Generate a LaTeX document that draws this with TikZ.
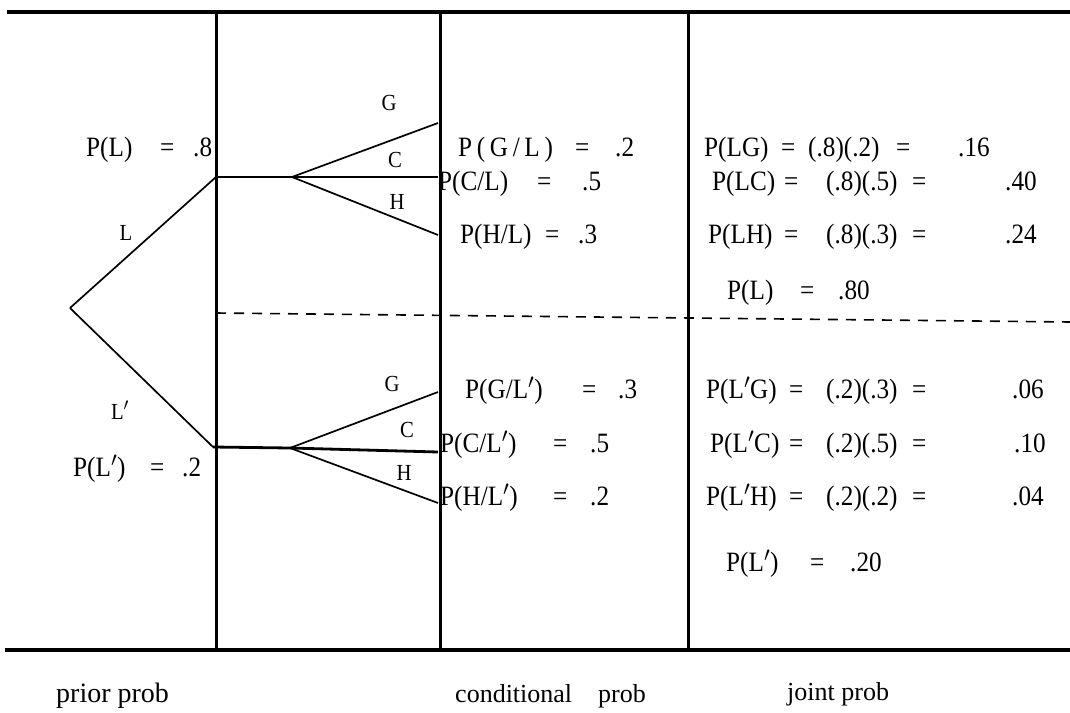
\documentclass[tikz,border=0pt]{standalone}
\usepackage{fontspec}
\setmainfont{Liberation Serif}
\newfontfamily\cond{Liberation Serif}[FakeStretch=0.9]
\newcounter{tn}
\newcommand\seg[3]{\stepcounter{tn}\node[lab] (t\arabic{tn}) at (#1,#2) {#3};}
\newcommand\pr{$^{\prime}$}
\begin{document}
\begin{tikzpicture}[x=1pt,y=-1pt,
  lab/.style={anchor=base west,inner sep=0pt,font=\cond\fontsize{28}{30}\selectfont},
  letter/.style={inner sep=0pt,font=\cond\fontsize{23}{25}\selectfont},
  foot/.style={anchor=base west,inner sep=0pt,font=\fontsize{26}{28}\selectfont},
  rule/.style={line width=3.6pt},
  col/.style={line width=3pt},
  branch/.style={line width=1.7pt},
  trunk/.style={line width=2.8pt},
  sep/.style={line width=1.6pt,dash pattern=on 10pt off 8pt}]
\useasboundingbox (0,0) rectangle (1070,712);
% frame
\coordinate (tl) at (7,12); \coordinate (tr) at (1070,12);
\coordinate (bl) at (5,650); \coordinate (br) at (1070,650);
\draw[rule] (tl) -- (tr);
\draw[rule] (bl) -- (br);
\foreach \x/\n in {216/a,440/b,688/c}{
  \coordinate (\n top) at (\x,12); \coordinate (\n bot) at (\x,650);
  \draw[col] (\n top) -- (\n bot);}
% dashed separator
\coordinate (d1) at (216,313); \coordinate (d2) at (1070,322);
\draw[sep] (d1) -- (d2);
% tree
\coordinate (root) at (70,308);
\coordinate (nL) at (216,177);
\coordinate (nLp) at (213,447);
\coordinate (fU) at (292,177);
\coordinate (fL) at (290,448);
\coordinate (gU) at (438,123); \coordinate (cU) at (438,177); \coordinate (hU) at (438,235);
\coordinate (gL) at (438,392); \coordinate (cL) at (438,452); \coordinate (hL) at (438,503);
\draw[branch] (root) -- (nL);
\draw[branch] (root) -- (nLp);
\draw[trunk] (nL) -- (fU);
\draw[trunk] (nLp) -- (fL);
\draw[branch] (fU) -- (gU);
\draw[trunk] (fU) -- (cU);
\draw[branch] (fU) -- (hU);
\draw[branch] (fL) -- (gL);
\draw[trunk] (fL) -- (cL);
\draw[branch] (fL) -- (hL);
% branch letters
\node[letter] (lL) at (126,233) {L};
\node[letter] (lLp) at (120,410) {L\pr};
\node[letter] (gu) at (389,103) {G};
\node[letter] (cu) at (395,160) {C};
\node[letter] (hu) at (397,202) {H};
\node[letter] (gl) at (392,384) {G};
\node[letter] (cl) at (407,430) {C};
\node[letter] (hl) at (404,473) {H};
% prior
\seg{86}{156}{P(L)}\seg{160}{156}{=}\seg{193}{156}{.8}
\seg{73}{476}{P(L\pr)}\seg{150}{476}{=}\seg{182}{476}{.2}
% conditional
\seg{458}{156}{P\,(\,G\,/\,L\,)}\seg{575}{156}{=}\seg{615}{156}{.2}
\seg{438}{190}{P(C/L)}\seg{537}{190}{=}\seg{582}{190}{.5}
\seg{460}{243}{P(H/L)}\seg{545}{243}{=}\seg{578}{243}{.3}
\seg{465}{398}{P(G/L\pr)}\seg{582}{398}{=}\seg{618}{398}{.3}
\seg{440}{452}{P(C/L\pr)}\seg{553}{452}{=}\seg{590}{452}{.5}
\seg{440}{505}{P(H/L\pr)}\seg{553}{505}{=}\seg{590}{505}{.2}
% joint
\seg{704}{156}{P(LG)}\seg{781}{156}{=}\seg{808}{156}{(.8)(.2)}\seg{896}{156}{=}\seg{958}{156}{.16}
\seg{712}{190}{P(LC)}\seg{784}{190}{=}\seg{826}{190}{(.8)(.5)}\seg{912}{190}{=}\seg{1005}{190}{.40}
\seg{708}{243}{P(LH)}\seg{784}{243}{=}\seg{826}{243}{(.8)(.3)}\seg{912}{243}{=}\seg{1005}{243}{.24}
\seg{727}{299}{P(L)}\seg{800}{299}{=}\seg{838}{299}{.80}
\seg{706}{398}{P(L\pr G)}\seg{789}{398}{=}\seg{826}{398}{(.2)(.3)}\seg{912}{398}{=}\seg{1012}{398}{.06}
\seg{710}{452}{P(L\pr C)}\seg{789}{452}{=}\seg{826}{452}{(.2)(.5)}\seg{912}{452}{=}\seg{1014}{452}{.10}
\seg{706}{505}{P(L\pr H)}\seg{789}{505}{=}\seg{826}{505}{(.2)(.2)}\seg{912}{505}{=}\seg{1012}{505}{.04}
\seg{726}{571}{P(L\pr)}\seg{810}{571}{=}\seg{850}{571}{.20}
% footers
\node[foot,font=\fontsize{28}{30}\selectfont] (f1) at (56,702) {prior prob};
\node[foot] (f2) at (455,702) {conditional};
\node[foot] (f3) at (598,702) {prob};
\node[foot] (f4) at (787,700) {joint prob};
\end{tikzpicture}
\end{document}
